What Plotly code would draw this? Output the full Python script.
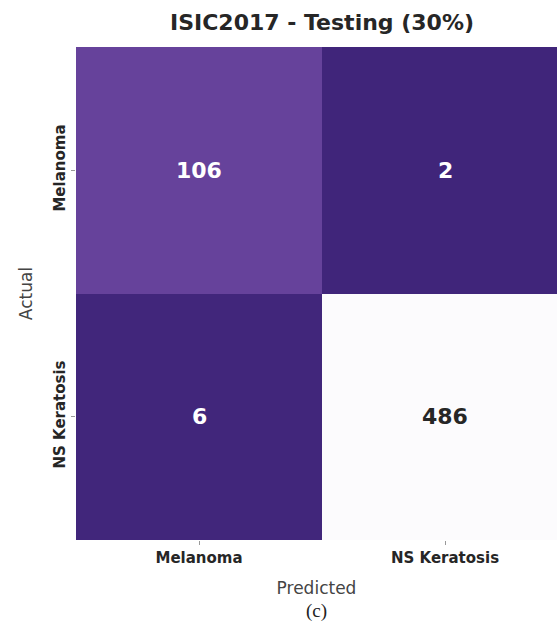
import plotly.graph_objects as go

classes = ["Melanoma", "NS Keratosis"]
z = [[106, 2],
     [6, 486]]
title = "ISIC2017 - Testing (30%)"

colorscale = [[0.0, "#40257a"], [0.214, "#66429b"], [1.0, "#fcfbfd"]]
xpos = list(range(len(classes)))
ypos = list(range(len(classes)))

fig = go.Figure(go.Heatmap(
    z=z, x=xpos, y=ypos,
    colorscale=colorscale, zmin=2, zmax=486,
    showscale=False, xgap=0, ygap=0,
))

for i, row in enumerate(z):
    for j, v in enumerate(row):
        col = "#262626" if v > 300 else "white"
        fig.add_annotation(x=xpos[j], y=ypos[i], text=f"<b>{v}</b>",
                           showarrow=False,
                           font=dict(family="DejaVu Sans", size=22, color=col))

fig.add_annotation(xref="paper", yref="paper", x=0.5, y=-0.145, xanchor="center", yanchor="middle",
                   text="(c)", showarrow=False,
                   font=dict(family="Liberation Serif", size=19, color="#222"))

fig.update_layout(
    width=557, height=627,
    margin=dict(l=76, r=0, t=47, b=87),
    paper_bgcolor="white", plot_bgcolor="white",
    title=dict(text="<b>" + title + "</b>", xref="container", x=322/557, xanchor="center",
               y=1 - 22/627, yanchor="middle",
               font=dict(family="DejaVu Sans", size=22, color="#262626")),
    font=dict(family="DejaVu Sans", color="#262626"),
)
fig.update_xaxes(
    range=[-0.5, -0.5 + 481/246],
    tickvals=xpos, ticktext=["<b>" + c + "</b>" for c in classes],
    tickfont=dict(size=15, color="#262626"),
    ticks="outside", ticklen=4, tickcolor="#999",
    title=dict(text="Predicted", font=dict(size=17, color="#444"), standoff=16),
    showgrid=False, zeroline=False,
)
fig.update_yaxes(
    range=[1.5, -0.5],
    tickvals=ypos, ticktext=["<b>" + c + "</b>" for c in classes],
    tickfont=dict(size=15, color="#262626"), tickangle=-90,
    ticks="outside", ticklen=4, tickcolor="#999",
    title=dict(text="Actual", font=dict(size=17, color="#444"), standoff=14),
    showgrid=False, zeroline=False,
)

fig.write_html("out.html")
